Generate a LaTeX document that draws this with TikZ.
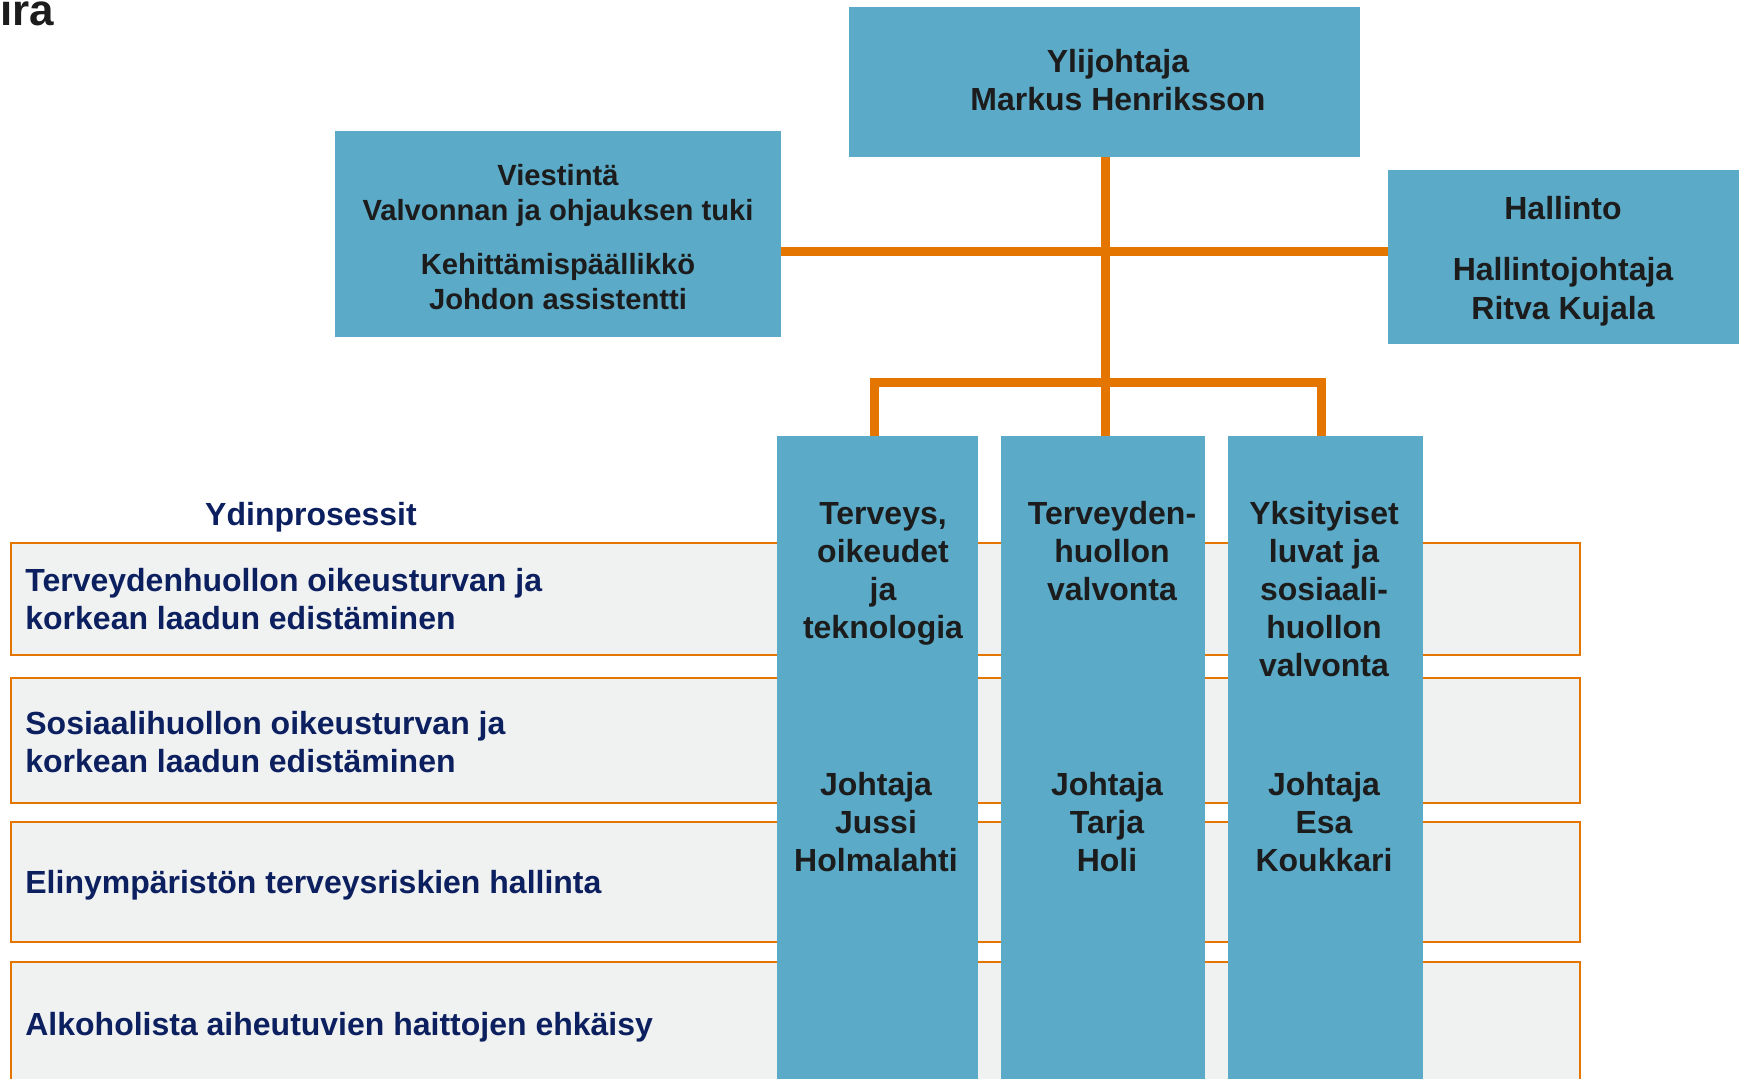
\documentclass[tikz,border=0pt]{standalone}
\usepackage{fontspec}
\setmainfont{Liberation Sans}
\definecolor{boxblue}{RGB}{90,170,200}
\definecolor{lineorange}{RGB}{228,118,0}
\definecolor{rowgrey}{RGB}{240,241,241}
\definecolor{textnavy}{RGB}{12,32,96}
\definecolor{textdark}{RGB}{28,28,28}
\begin{document}
\begin{tikzpicture}[blue box/.style={rectangle,fill=boxblue,inner sep=0.,outer sep=0.,anchor=north west},
  row box/.style={rectangle,fill=rowgrey,draw=lineorange,line width=1.3pt,inner sep=0.,outer sep=0.,anchor=north west},
  box text/.style={align=center,inner sep=0.,text=textdark,font=\fontsize{16}{19}\selectfont\bfseries},
  row text/.style={align=left,inner sep=0.,anchor=west,text=textnavy,font=\fontsize{16}{19}\selectfont\bfseries},
  link/.style={draw=lineorange,line width=4.5pt}]%
  \pgfmathsetmacro{\xscale}{0.017573}
  \pgfmathsetmacro{\yscale}{-0.017573}
  \useasboundingbox (0., 0.) rectangle (1741. * \xscale, 1079. * \yscale);
  \node[anchor=base west,inner sep=0.,text=textdark,font=\fontsize{22}{22}\selectfont\bfseries] (logo) at (0. * \xscale, 26. * \yscale) {ira};
  % ydinprosessit
  \node[row box,minimum width=1569 * \xscale cm,minimum height=112 * \xscale cm] (row1) at (11. * \xscale, 543. * \yscale) {};
  \node[row box,minimum width=1569 * \xscale cm,minimum height=125 * \xscale cm] (row2) at (11. * \xscale, 678. * \yscale) {};
  \node[row box,minimum width=1569 * \xscale cm,minimum height=120 * \xscale cm] (row3) at (11. * \xscale, 822. * \yscale) {};
  \node[row box,minimum width=1569 * \xscale cm,minimum height=140 * \xscale cm] (row4) at (11. * \xscale, 962. * \yscale) {};
  \node[inner sep=0.,text=textnavy,font=\fontsize{16}{19}\selectfont\bfseries] (ydin) at (311. * \xscale, 517. * \yscale) {Ydinprosessit};
  \node[row text] (proc1) at (25. * \xscale, 599.5 * \yscale) {Terveydenhuollon oikeusturvan ja\\korkean laadun edistäminen};
  \node[row text] (proc2) at (25. * \xscale, 742. * \yscale) {Sosiaalihuollon oikeusturvan ja\\korkean laadun edistäminen};
  \node[row text] (proc3) at (25. * \xscale, 885. * \yscale) {Elinympäristön terveysriskien hallinta};
  \node[row text] (proc4) at (25. * \xscale, 1027. * \yscale) {Alkoholista aiheutuvien haittojen ehkäisy};
  % laatikot
  \node[blue box,minimum width=511 * \xscale cm,minimum height=150 * \xscale cm] (ylij) at (849. * \xscale, 7. * \yscale) {};
  \node[blue box,minimum width=446 * \xscale cm,minimum height=206 * \xscale cm] (viest) at (335. * \xscale, 131. * \yscale) {};
  \node[blue box,minimum width=351 * \xscale cm,minimum height=174 * \xscale cm] (hall) at (1388. * \xscale, 170. * \yscale) {};
  \node[blue box,minimum width=201 * \xscale cm,minimum height=660 * \xscale cm] (col1) at (777. * \xscale, 436. * \yscale) {};
  \node[blue box,minimum width=204 * \xscale cm,minimum height=660 * \xscale cm] (col2) at (1001. * \xscale, 436. * \yscale) {};
  \node[blue box,minimum width=195 * \xscale cm,minimum height=660 * \xscale cm] (col3) at (1228. * \xscale, 436. * \yscale) {};
  \node[box text] (ylijt) at (1118. * \xscale, 80. * \yscale) {Ylijohtaja\\Markus Henriksson};
  \node[box text,font=\fontsize{14.6}{17.8}\selectfont\bfseries] (viestt) at (558. * \xscale, 237. * \yscale) {Viestintä\\Valvonnan ja ohjauksen tuki\\[9pt]Kehittämispäällikkö\\Johdon assistentti};
  \node[box text,font=\fontsize{16}{19.4}\selectfont\bfseries] (hallt) at (1563. * \xscale, 261.5 * \yscale) {Hallinto\\[11pt]Hallintojohtaja\\Ritva Kujala};
  \node[box text] (col1t) at (883. * \xscale, 573.5 * \yscale) {Terveys,\\oikeudet\\ja\\teknologia};
  \node[box text] (col2t) at (1112. * \xscale, 551. * \yscale) {Terveyden-\\huollon\\valvonta};
  \node[box text] (col3t) at (1324. * \xscale, 589.5 * \yscale) {Yksityiset\\luvat ja\\sosiaali-\\huollon\\valvonta};
  \node[box text] (col1j) at (876. * \xscale, 822. * \yscale) {Johtaja\\Jussi\\Holmalahti};
  \node[box text] (col2j) at (1107. * \xscale, 822. * \yscale) {Johtaja\\Tarja\\Holi};
  \node[box text] (col3j) at (1324. * \xscale, 822. * \yscale) {Johtaja\\Esa\\Koukkari};
  % viivat
  \coordinate (hline) at (1105. * \xscale, 251.5 * \yscale);
  \coordinate (bus) at (1105. * \xscale, 382.5 * \yscale);
  \draw[link] (viest.east |- hline) -- (hall.west |- hline);
  \draw[link] ([xshift=0.5pt]ylij.south) -- ([xshift=0.5pt]ylij.south |- col2.north);
  \draw[link] ([xshift=-1.4pt]col1.north) |- (bus) -| ([xshift=-2.2pt]col3.north);
\end{tikzpicture}
\end{document}
